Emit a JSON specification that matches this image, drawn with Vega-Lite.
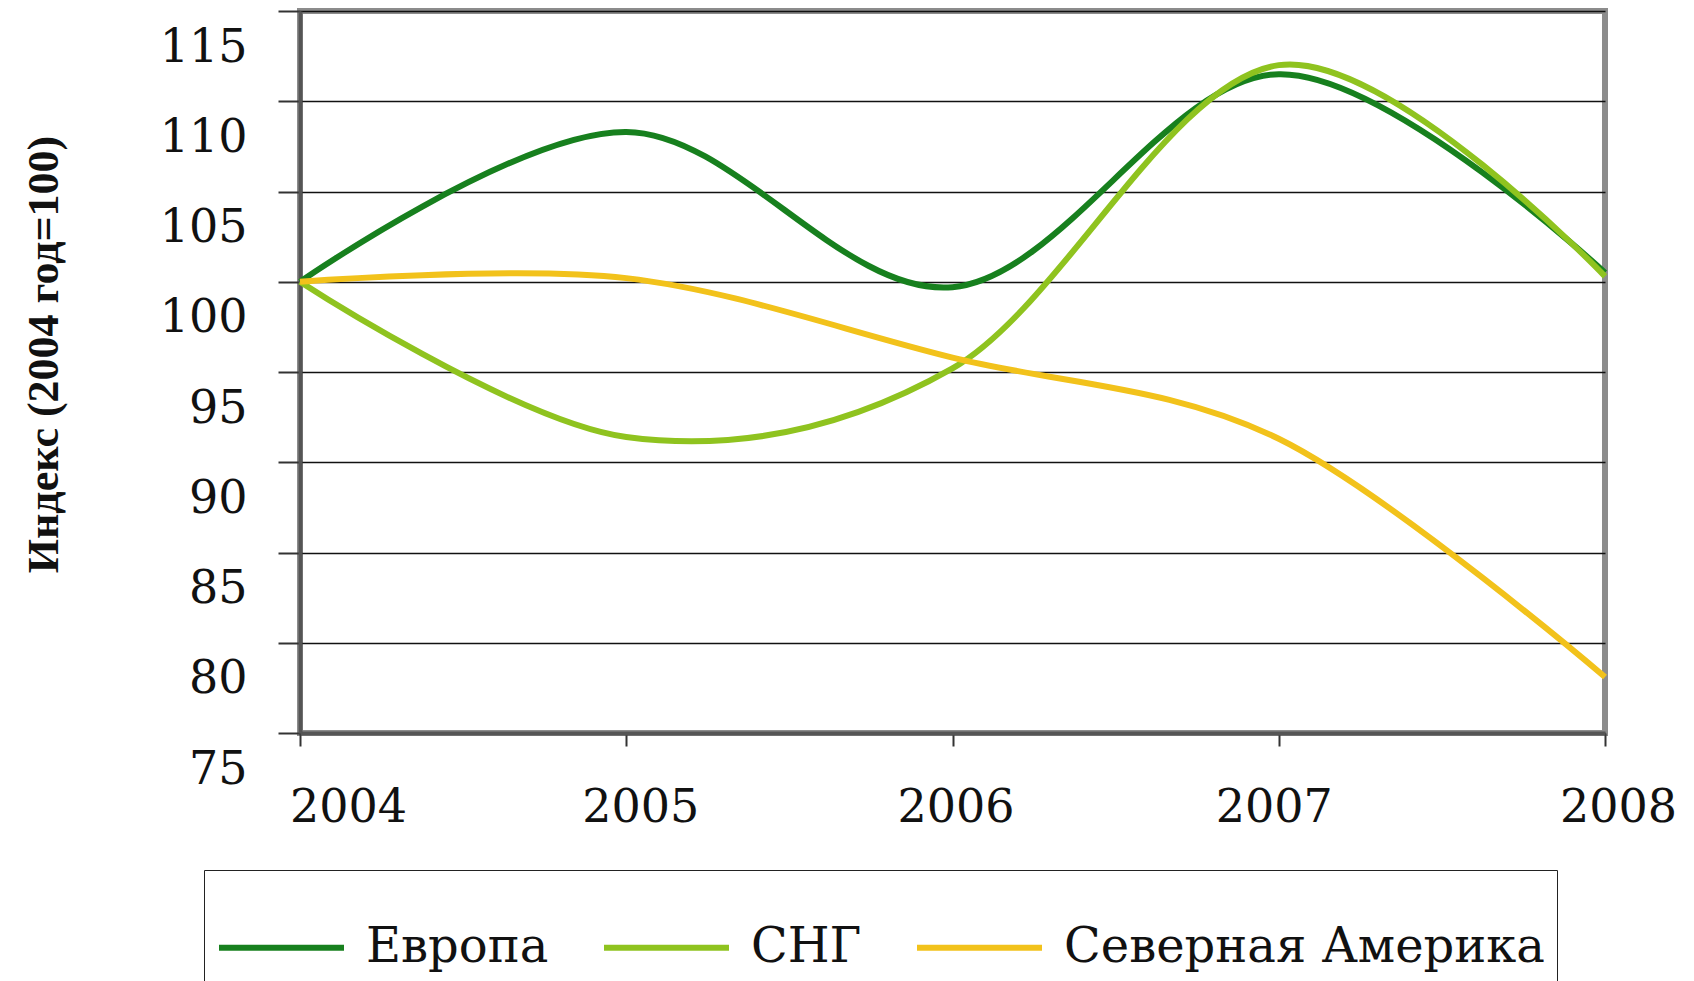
{
  "$schema": "https://vega.github.io/schema/vega-lite/v6.json",
  "width": 1305,
  "height": 722,
  "autosize": {"type": "none"},
  "padding": {"left": 300, "top": 11, "right": 89, "bottom": 248},
  "background": "white",
  "config": {
    "view": {"stroke": "#8c8c8c", "strokeWidth": 6},
    "font": "DejaVu Serif"
  },
  "data": {
    "values": [
      {"year": 2004, "region": "Европа", "index": 100},
      {"year": 2005, "region": "Европа", "index": 108.3},
      {"year": 2006, "region": "Европа", "index": 99.7},
      {"year": 2007, "region": "Европа", "index": 111.5},
      {"year": 2008, "region": "Европа", "index": 100.5},
      {"year": 2004, "region": "СНГ", "index": 100},
      {"year": 2005, "region": "СНГ", "index": 91.4},
      {"year": 2006, "region": "СНГ", "index": 95.2},
      {"year": 2007, "region": "СНГ", "index": 112.0},
      {"year": 2008, "region": "СНГ", "index": 100.3},
      {"year": 2004, "region": "Северная Америка", "index": 100},
      {"year": 2005, "region": "Северная Америка", "index": 100.2},
      {"year": 2006, "region": "Северная Америка", "index": 95.8},
      {"year": 2007, "region": "Северная Америка", "index": 91.3},
      {"year": 2008, "region": "Северная Америка", "index": 78.1}
    ]
  },
  "mark": {"type": "line", "interpolate": "cardinal", "tension": 0, "strokeWidth": 6, "clip": false},
  "encoding": {
    "x": {
      "field": "year",
      "type": "quantitative",
      "scale": {"domain": [2004, 2008], "nice": false, "zero": false},
      "axis": {
        "values": [2004, 2005, 2006, 2007, 2008],
        "format": "d",
        "title": null,
        "grid": false,
        "domainColor": "#555555",
        "domainWidth": 4,
        "tickColor": "#333333",
        "tickWidth": 2,
        "tickSize": 13,
        "labelFont": "DejaVu Serif",
        "labelFontSize": 46,
        "labelColor": "#111111",
        "labelBaseline": "middle",
        "labelPadding": 61,
        "labelFlush": false,
        "labelOverlap": false,
        "labelOffset": {
          "condition": [
            {"test": "datum.value == 2004", "value": 48},
            {"test": "datum.value == 2005", "value": 14},
            {"test": "datum.value == 2007", "value": -5},
            {"test": "datum.value == 2008", "value": 13}
          ],
          "value": 3
        }
      }
    },
    "y": {
      "field": "index",
      "type": "quantitative",
      "scale": {"domain": [75, 115], "nice": false, "zero": false},
      "axis": {
        "values": [75, 80, 85, 90, 95, 100, 105, 110, 115],
        "title": "Индекс (2004 год=100)",
        "titleFont": "Liberation Serif",
        "titleFontWeight": "bold",
        "titleFontSize": 44,
        "titleColor": "#111111",
        "titleAngle": -90,
        "titleAlign": "center",
        "titleBaseline": "middle",
        "titleX": -256,
        "titleY": 343,
        "grid": true,
        "gridColor": "#111111",
        "gridWidth": 1.6,
        "domainColor": "#555555",
        "domainWidth": 4,
        "tickColor": "#333333",
        "tickWidth": 2,
        "tickSize": 22,
        "labelFont": "DejaVu Serif",
        "labelFontSize": 46,
        "labelColor": "#111111",
        "labelPadding": 31,
        "labelOffset": 36,
        "labelOverlap": false,
        "labelFlush": false
      }
    },
    "color": {
      "field": "region",
      "type": "nominal",
      "scale": {
        "domain": ["Европа", "СНГ", "Северная Америка"],
        "range": ["#17801e", "#8fc31f", "#f2c21b"]
      },
      "legend": {
        "orient": "none",
        "legendX": -96,
        "legendY": 859,
        "direction": "horizontal",
        "columns": 3,
        "title": null,
        "symbolType": "stroke",
        "symbolSize": 15625,
        "symbolStrokeWidth": 6,
        "labelFont": "DejaVu Serif",
        "labelFontSize": 48,
        "labelColor": "#111111",
        "labelLimit": 1000,
        "labelOffset": 19,
        "columnPadding": 43,
        "padding": 12,
        "strokeColor": "#222222",
        "fillColor": "white"
      }
    }
  }
}
